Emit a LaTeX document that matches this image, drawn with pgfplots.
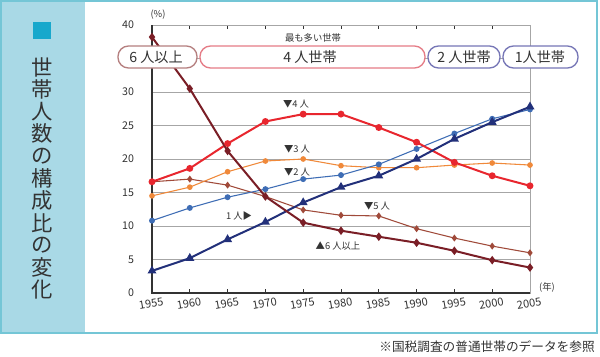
\documentclass[border=0pt]{standalone}
\usepackage{pgfplots}
\pgfplotsset{compat=1.18}
\usepackage{fontspec}
\setmainfont{Noto Sans CJK JP}
\definecolor{c6}{HTML}{7A1E26}
\definecolor{c5}{HTML}{A04A3A}
\definecolor{c4}{HTML}{E8262E}
\definecolor{c3}{HTML}{F0893A}
\definecolor{c2}{HTML}{3E6DB5}
\definecolor{c1}{HTML}{22307A}
\definecolor{frame}{HTML}{74C6D6}
\definecolor{panel}{HTML}{A9D9E6}
\definecolor{sq}{HTML}{18A8CC}
\definecolor{txt}{HTML}{333333}
\definecolor{b1}{HTML}{B57F7F}
\definecolor{b2}{HTML}{E57C86}
\definecolor{b3}{HTML}{7676B6}
\begin{document}
\begin{tikzpicture}
\begin{scope}[x=0.75pt,y=-0.75pt]
\fill[white] (0,0) rectangle (600,357);
\fill[panel] (1,1) rectangle (85,333);
\draw[frame, line width=1.5pt] (1,1) rectangle (597,333);
\fill[sq] (33,22) rectangle (51,39);
\foreach \c/\i in {世/0,帯/1,人/2,数/3,の/4,構/5,成/6,比/7,の/8,変/9,化/10}{
  \node[txt, font=\fontsize{16}{16}\selectfont, inner sep=0pt] at (42,{67+22.3*\i}) {\c};
}
\end{scope}
\begin{axis}[
 at={(114pt,-219.75pt)}, anchor=south west,
 scale only axis, width=283.5pt, height=201pt,
 xmin=1955, xmax=2005, ymin=0, ymax=40,
 xtick={1955,1960,...,2005}, ytick={0,5,...,40},
 yticklabels={0,5,10,15,20,25,30,,40},
 ymajorgrids, grid style={black!35, line width=0.7pt},
 axis line style={draw=none},
 xtick align=inside, major tick length=3pt,
 xtick style={black!80, line width=0.6pt},
 ytick style={draw=none},
 /pgf/number format/1000 sep={},
 /pgf/number format/assume math mode=true,
 xticklabel style={font=\fontsize{8.3}{9}\selectfont, text=txt, rotate=10, anchor=north, yshift=-1pt, xshift=-2pt},
 yticklabel style={font=\fontsize{8}{9}\selectfont, text=txt, xshift=-10pt},
 clip=false,
]
\draw[black!35, line width=0.7pt] (rel axis cs:0,0) rectangle (rel axis cs:1,1);
\draw[black!80, line width=1pt] (rel axis cs:0,1) -- (rel axis cs:0,0) -- (rel axis cs:1,0);
% 5 persons
\addplot[c5, line width=0.8pt, mark=diamond*, mark size=2pt] coordinates {
(1955,16.6) (1960,17.0) (1965,16.1) (1970,14.4) (1975,12.4) (1980,11.6) (1985,11.5) (1990,9.6) (1995,8.2) (2000,7.0) (2005,6.0)};
% 3 persons
\addplot[c3, line width=0.8pt, mark=*, mark size=1.7pt] coordinates {
(1955,14.5) (1960,15.8) (1965,18.1) (1970,19.7) (1975,20.0) (1980,19.0) (1985,18.7) (1990,18.7) (1995,19.1) (2000,19.4) (2005,19.1)};
% 2 persons
\addplot[c2, line width=0.8pt, mark=*, mark size=1.8pt] coordinates {
(1955,10.8) (1960,12.7) (1965,14.3) (1970,15.5) (1975,17.0) (1980,17.6) (1985,19.2) (1990,21.5) (1995,23.8) (2000,26.0) (2005,27.4)};
% 4 persons
\addplot[c4, line width=1.5pt, mark=*, mark size=1.8pt] coordinates {
(1955,16.6) (1960,18.6) (1965,22.3) (1970,25.6) (1975,26.7) (1980,26.7) (1985,24.7) (1990,22.5) (1995,19.5) (2000,17.5) (2005,16.0)};
% 1 person
\addplot[c1, line width=1.5pt, mark=triangle*, mark size=2.4pt] coordinates {
(1955,3.3) (1960,5.2) (1965,8.0) (1970,10.6) (1975,13.5) (1980,15.8) (1985,17.5) (1990,20.0) (1995,23.0) (2000,25.5) (2005,27.8)};
% 6+ persons
\addplot[c6, line width=1.5pt, mark=diamond*, mark size=2pt] coordinates {
(1955,38.2) (1960,30.5) (1965,21.2) (1970,14.4) (1975,10.5) (1980,9.3) (1985,8.4) (1990,7.5) (1995,6.3) (2000,4.9) (2005,3.8)};
\end{axis}
\begin{scope}[x=0.75pt,y=-0.75pt]
\tikzset{lab/.style={txt, font=\fontsize{7}{7}\selectfont, inner sep=0pt}}
\node[lab] at (158,15) {(\%)};
\node[lab] at (547,287) {(年)};
\node[lab] at (313,38) {最も多い世帯};
\node[lab] at (296,104) {▼4 人};
\node[lab] at (297,149) {▼3 人};
\node[lab] at (297,172) {▼2 人};
\node[lab] at (239,216) {1 人▶};
\node[lab] at (377,206) {▼5 人};
\node[lab] at (338,246) {▲6 人以上};
\tikzset{bx/.style={fill=white, line width=1pt, rounded corners=10.5*0.75pt}}
\draw[bx, draw=b1] (118,46) rectangle (197,68);
\draw[bx, draw=b2] (200,46) rectangle (425,68);
\draw[bx, draw=b3] (428,46) rectangle (500,68);
\draw[bx, draw=b3] (503,46) rectangle (578,68);
\tikzset{bt/.style={txt, font=\fontsize{10.6}{11}\selectfont, inner sep=0pt}}
\node[bt] at (156,57) {6 人以上};
\node[bt] at (310,57) {4 人世帯};
\node[bt] at (464,57) {2 人世帯};
\node[bt] at (540,57) {1人世帯};
\node[txt, font=\fontsize{9.5}{10}\selectfont, inner sep=0pt, anchor=east] at (595,347) {※国税調査の普通世帯のデータを参照};
\end{scope}
\end{tikzpicture}
\end{document}
